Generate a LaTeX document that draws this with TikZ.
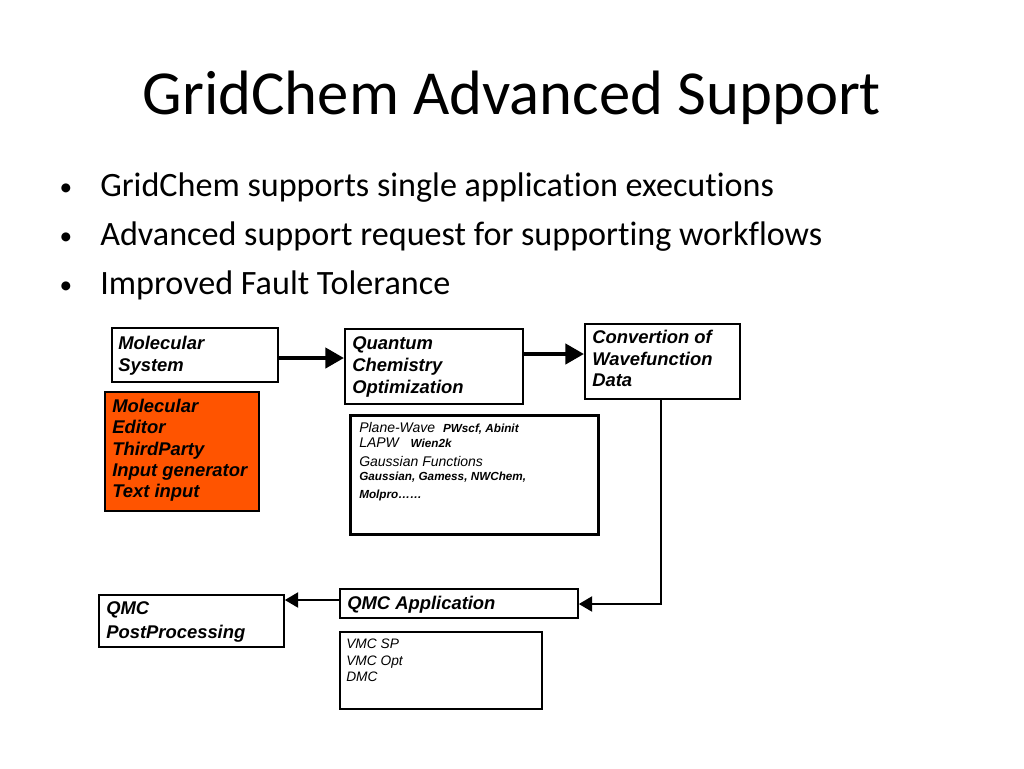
\documentclass[tikz,border=0pt]{standalone}
\usepackage{fontspec}
\setmainfont[Ligatures={NoCommon}]{Carlito}
\newfontfamily\arialf{Liberation Sans}
\usetikzlibrary{arrows.meta}
\definecolor{orangebox}{RGB}{255,84,0}
\tikzset{
  box/.style={draw=black, line width=1.3pt, inner sep=0pt, anchor=north west},
  thickbox/.style={draw=black, line width=2.6pt, inner sep=0pt, anchor=north west},
  boxtext/.style={anchor=north west, align=left, inner sep=0pt, font=\arialf\bfseries\itshape\fontsize{13.8}{16.2}\selectfont},
  smalltext/.style={anchor=north west, align=left, inner sep=0pt, font=\arialf\itshape\fontsize{10.5}{12.7}\selectfont},
  bigarrow/.style={line width=3.2pt, -{Triangle[length=14pt,width=15pt]}},
  midarrow/.style={line width=2.2pt, -{Triangle[length=10pt,width=11pt]}},
}
\newcommand{\tb}[1]{{\upshape\bfseries\itshape\fontsize{8.8}{10}\selectfont #1}}
\begin{document}
\begin{tikzpicture}[x=0.75pt,y=-0.75pt]
\useasboundingbox (0,0) rectangle (1024,768);
% title
\node[anchor=base, inner sep=0pt, font=\fontsize{47}{56}\selectfont] (title) at (512,114) {GridChem Advanced Support};
% bullets
\foreach \yy/\tt [count=\i] in {196/GridChem supports single application executions,245/Advanced support request for supporting workflows,294/Improved Fault Tolerance}{
  \node[anchor=base west, inner sep=0pt, font=\fontsize{25.6}{30}\selectfont] (b\i) at (100,\yy) {\tt};
  \node[anchor=base, inner sep=0pt, font=\fontsize{19}{24}\selectfont] (d\i) at (66,\yy-1) {\textbullet};
}
% boxes
\node[box, minimum width=166*0.75pt, minimum height=54*0.75pt] (mol) at (111,327) {};
\node[boxtext] (molt) at (118,336) {Molecular\\System};
\node[box, fill=orangebox, minimum width=154*0.75pt, minimum height=119*0.75pt] (ed) at (104,391) {};
\node[boxtext, font=\arialf\bfseries\itshape\fontsize{13.8}{15.9}\selectfont] (edt) at (112,399) {Molecular\\Editor\\ThirdParty\\Input generator\\Text input};
\node[box, minimum width=178*0.75pt, minimum height=75*0.75pt] (qc) at (344,328) {};
\node[boxtext, font=\arialf\bfseries\itshape\fontsize{13.8}{16.5}\selectfont] (qct) at (352,336) {Quantum\\Chemistry\\Optimization};
\node[box, minimum width=155*0.75pt, minimum height=75*0.75pt] (conv) at (584,323) {};
\node[boxtext] (convt) at (592,330) {Convertion of\\Wavefunction\\Data};
\node[thickbox, minimum width=248*0.75pt, minimum height=119*0.75pt] (pw) at (349,414) {};
\node[smalltext] (pwt) at (359,422) {Plane-Wave \ \tb{PWscf, Abinit}\\[-1.5pt]
LAPW \ \ \tb{Wien2k}\\[1.8pt]
Gaussian Functions\\[-2.5pt]
\tb{Gaussian, Gamess, NWChem,}\\[1pt]
\tb{Molpro\ldots\ldots}};
\node[box, minimum width=185*0.75pt, minimum height=52*0.75pt] (post) at (98,594) {};
\node[boxtext, font=\arialf\bfseries\itshape\fontsize{13.8}{18}\selectfont] (postt) at (106,601) {QMC\\PostProcessing};
\node[box, minimum width=238*0.75pt, minimum height=29*0.75pt] (app) at (339,588) {};
\node[boxtext] (appt) at (347,596) {QMC Application};
\node[box, minimum width=202*0.75pt, minimum height=77*0.75pt] (vmc) at (339,631) {};
\node[smalltext, font=\arialf\itshape\fontsize{10.3}{12.4}\selectfont] (vmct) at (346,639) {VMC SP\\VMC Opt\\DMC};
% connectors
\draw[bigarrow] (mol.east |- 0,358) -- (qc.west |- 0,358);
\draw[bigarrow] (qc.east |- 0,354) -- (conv.west |- 0,354);
\coordinate (corner) at (661,604);
\draw[midarrow] (conv.south -| corner) -- (corner) -- (app.east |- corner);
\draw[midarrow] (app.west |- 0,600) -- (post.east |- 0,600);
\end{tikzpicture}
\end{document}
